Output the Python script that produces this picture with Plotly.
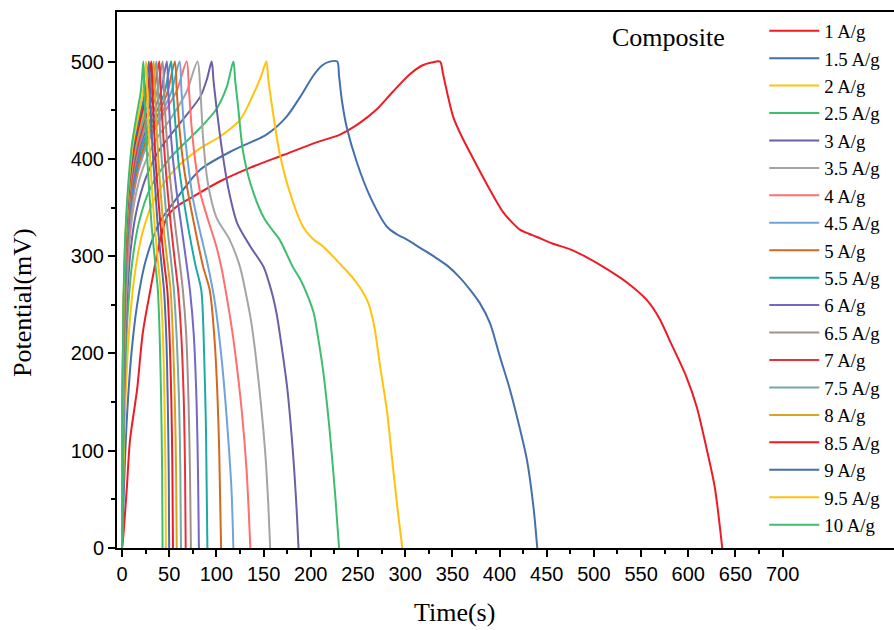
import plotly.graph_objects as go

labels = ["1 A/g", "1.5 A/g", "2 A/g", "2.5 A/g", "3 A/g", "3.5 A/g", "4 A/g", "4.5 A/g",
          "5 A/g", "5.5 A/g", "6 A/g", "6.5 A/g", "7 A/g", "7.5 A/g", "8 A/g", "8.5 A/g",
          "9 A/g", "9.5 A/g", "10 A/g"]

colors = ["#ED1C24", "#4470AD", "#FFC20E", "#3DBE6E", "#6B5FA5", "#A5A5A5", "#FF6F6F", "#6FA3DA",
          "#D2691E", "#1FA8A8", "#7567C8", "#A39189", "#E8313A", "#75A8A6", "#D9A521", "#ED1C24",
          "#4470AD", "#FFC20E", "#3DBE6E"]

# time (s) and potential (mV) for each current density: charge then discharge
t_1 = [0, 1, 5, 8.5, 16, 22, 30, 40, 48, 58, 75, 104, 136, 171, 206, 231, 252, 270, 287, 305, 318, 328, 337,
       340, 345, 351, 360, 369, 386, 404, 414, 422, 431, 439, 456, 475, 492, 510, 535, 556, 570, 580, 598,
       609, 619, 628, 636]
v_1 = [0, 8, 60, 111, 163, 221, 265, 315, 341, 351, 361, 377, 391, 404, 417, 425, 437, 451, 469, 487, 496, 499, 500,
       488, 466, 443, 423, 406, 375, 345, 334, 327, 323, 320, 313, 307, 299, 289, 273, 255, 235, 214, 176,
       145, 104, 63, 0]

t_1_5 = [0, 2, 5, 10, 16, 25, 40, 60, 83, 118, 153, 174, 189, 203, 212, 220, 228,
         230, 233, 238, 249, 263, 281, 292, 302, 315, 330, 345, 358, 370, 379, 390, 400, 411, 422, 429, 436, 440]
v_1_5 = [0, 60, 130, 200, 250, 295, 335, 362, 389, 409, 425, 443, 464, 486, 496, 500, 500,
         485, 460, 433, 396, 361, 330, 322, 317, 309, 300, 290, 278, 264, 252, 231, 198, 163, 121, 91, 42, 0]

t_2 = [0, 1.5, 4, 8, 14, 22, 35, 55, 83, 104, 125, 139, 147, 153,
       155, 159, 167, 178, 192, 202, 213, 234, 246, 254, 261, 265, 268, 273, 281, 287, 292, 297]
v_2 = [0, 80, 160, 230, 285, 325, 360, 388, 411, 423, 440, 466, 484, 500,
       482, 454, 406, 365, 330, 318, 310, 289, 276, 265, 252, 238, 224, 190, 139, 84, 40, 0]

t_2_5 = [0, 1, 3, 6, 11, 18, 30, 50, 83, 100, 111, 118,
         120, 123, 128, 136, 150, 160, 167, 181, 189, 196, 203, 208, 213, 220, 226, 230]
v_2_5 = [0, 80, 170, 240, 295, 335, 370, 400, 432, 451, 474, 500,
         480, 454, 409, 375, 340, 326, 317, 289, 276, 261, 242, 215, 183, 121, 53, 0]

t_3 = [0, 1, 2.5, 5, 9, 15, 25, 40, 60, 83, 90, 95,
       97, 100, 106, 113, 122, 136, 150, 156, 160, 164, 168, 175, 181, 185, 187]
v_3 = [0, 90, 180, 250, 305, 345, 380, 410, 435, 464, 482, 500,
       480, 454, 409, 368, 334, 310, 289, 272, 258, 240, 215, 165, 100, 40, 0]

t_3_5 = [0, 1, 2.5, 4.5, 8, 13, 22, 35, 52, 68, 80,
         83, 86, 91, 100, 114, 125, 132, 137, 142, 147, 152, 155, 157]
v_3_5 = [0, 100, 195, 260, 315, 355, 390, 418, 442, 468, 500,
         471, 420, 375, 340, 317, 289, 258, 232, 195, 150, 95, 45, 0]

t_4 = [0, 0.8, 2, 4, 7, 11, 18, 29, 45, 58, 68.5,
       71, 74, 78, 83, 90, 100, 106, 111, 116, 120, 127, 132, 136]
v_4 = [0, 100, 190, 260, 315, 355, 390, 420, 448, 470, 500,
       470, 430, 395, 365, 341, 310, 285, 258, 228, 200, 140, 80, 0]

t_4_5 = [0, 0.7, 1.8, 3.5, 6, 10, 16, 26, 40, 52, 61,
         63, 66, 70, 75, 83, 90, 98, 106, 112, 116, 118]
v_4_5 = [0, 100, 190, 260, 310, 350, 385, 415, 443, 468, 500,
         470, 430, 395, 360, 324, 295, 255, 190, 120, 60, 0]

t_5 = [0, 0.6, 1.6, 3.2, 5.5, 9, 15, 24, 37, 48, 56,
       58, 61, 65, 70, 77, 86, 93, 98, 101, 103, 105]
v_5 = [0, 100, 190, 260, 310, 350, 385, 415, 443, 468, 500,
       470, 430, 395, 365, 330, 289, 265, 215, 160, 100, 0]

t_5_5 = [0, 0.6, 1.5, 3, 5, 8.5, 14, 22, 34, 45, 52,
         54, 57, 60, 65, 71, 78, 84, 87, 89, 90.5]
v_5_5 = [0, 100, 190, 260, 310, 350, 385, 415, 443, 468, 500,
         470, 430, 395, 360, 325, 290, 265, 200, 120, 0]

t_6 = [0, 0.5, 1.4, 2.8, 4.8, 8, 13, 20, 31, 41, 47.5,
       49, 51, 54, 58, 63, 68, 72, 76, 79, 80.5, 81.5]
v_6 = [0, 100, 190, 260, 310, 350, 385, 415, 443, 468, 500,
       470, 435, 400, 365, 330, 295, 265, 220, 150, 80, 0]

t_6_5 = [0, 0.5, 1.3, 2.6, 4.5, 7.5, 12, 18.5, 28, 37, 43,
         44.5, 46.5, 49, 52.5, 56.5, 61, 64.5, 68, 70.5, 72, 73]
v_6_5 = [0, 100, 190, 260, 310, 350, 385, 415, 443, 468, 500,
         470, 435, 400, 365, 330, 295, 265, 220, 150, 80, 0]

t_7 = [0, 0.5, 1.2, 2.4, 4.2, 7, 11, 17, 26, 34, 39.5,
       41, 43, 45.5, 48.5, 52, 56, 59.5, 63, 65.5, 66.8, 67.5]
v_7 = [0, 100, 190, 260, 310, 350, 385, 415, 445, 470, 500,
       470, 435, 400, 365, 330, 295, 265, 215, 150, 80, 0]

t_7_5 = [0, 0.4, 1.1, 2.2, 4, 6.5, 10, 15.5, 24, 31.5, 36.5,
         38, 40, 42, 45, 48, 52, 55, 58, 60.5, 61.8, 62.5]
v_7_5 = [0, 100, 190, 260, 310, 350, 385, 415, 445, 470, 500,
         470, 435, 400, 365, 330, 295, 265, 215, 150, 80, 0]

t_8 = [0, 0.4, 1.0, 2.1, 3.8, 6.2, 9.5, 14.5, 22, 29, 33.5,
       35, 36.5, 38.5, 41, 44, 48, 51.5, 54, 56, 57.3, 58]
v_8 = [0, 100, 190, 260, 310, 350, 385, 415, 445, 470, 500,
       470, 435, 400, 365, 330, 295, 265, 215, 150, 80, 0]

t_8_5 = [0, 0.4, 1.0, 2.0, 3.6, 5.8, 9, 13.5, 20.5, 27, 31,
         32.3, 33.8, 35.5, 38, 41, 44.5, 48, 50.5, 52.3, 53.4, 54]
v_8_5 = [0, 100, 190, 260, 310, 350, 385, 415, 445, 470, 500,
         470, 435, 400, 365, 330, 295, 265, 215, 150, 80, 0]

t_9 = [0, 0.35, 0.9, 1.9, 3.4, 5.5, 8.5, 12.5, 19, 25, 28.5,
       29.7, 31, 33, 35.5, 38, 41.5, 44.5, 47, 48.5, 49.5, 50]
v_9 = [0, 100, 190, 260, 310, 350, 385, 415, 445, 470, 500,
       470, 435, 400, 365, 330, 295, 265, 215, 150, 80, 0]

t_9_5 = [0, 0.35, 0.9, 1.8, 3.2, 5.2, 8, 11.5, 17.5, 22.5, 25.5,
         26.7, 28, 29.8, 32, 34.8, 38, 41, 43.5, 45, 46, 46.5]
v_9_5 = [0, 100, 190, 260, 310, 350, 385, 415, 445, 470, 500,
         470, 435, 400, 365, 330, 295, 265, 215, 150, 80, 0]

t_10 = [0, 0.3, 0.8, 1.7, 3.0, 5.0, 7.5, 10.5, 15.5, 20, 22.6,
        23.7, 25, 26.8, 29, 31.5, 35, 38, 40, 41.5, 42.5, 43]
v_10 = [0, 100, 190, 260, 310, 350, 385, 415, 445, 470, 500,
        470, 435, 400, 365, 330, 295, 265, 215, 150, 80, 0]

times = [t_1, t_1_5, t_2, t_2_5, t_3, t_3_5, t_4, t_4_5, t_5, t_5_5, t_6, t_6_5,
         t_7, t_7_5, t_8, t_8_5, t_9, t_9_5, t_10]
volts = [v_1, v_1_5, v_2, v_2_5, v_3, v_3_5, v_4, v_4_5, v_5, v_5_5, v_6, v_6_5,
         v_7, v_7_5, v_8, v_8_5, v_9, v_9_5, v_10]

x_ticks = list(range(0, 701, 50))
y_ticks = [0, 100, 200, 300, 400, 500]

fig = go.Figure()
for name, col, tt, vv in zip(labels, colors, times, volts):
    fig.add_trace(go.Scatter(x=tt, y=vv, mode="lines", name=name,
                             line=dict(color=col, width=2, shape="spline", smoothing=0.8)))

serif = "Liberation Serif, Times New Roman, serif"
sans = "Liberation Sans, Arial, sans-serif"

fig.update_layout(
    width=894, height=630,
    margin=dict(l=117, r=0, t=12, b=82, autoexpand=False),
    paper_bgcolor="white", plot_bgcolor="white",
    showlegend=True,
    legend=dict(x=0.833, y=1.0, xanchor="left", yanchor="top",
                font=dict(family=serif, size=18.8, color="black"),
                bgcolor="rgba(0,0,0,0)", borderwidth=0, tracegroupgap=0,
                itemwidth=50),
    xaxis=dict(range=[-5.3, 818], tickvals=x_ticks, ticktext=[str(v) for v in x_ticks],
               showgrid=False, zeroline=False, showline=True, linecolor="black", linewidth=2,
               mirror=True, ticks="outside", ticklen=7, tickwidth=2, tickcolor="black",
               minor=dict(tickvals=list(range(25, 701, 50)), ticks="outside", ticklen=4,
                          tickwidth=2, tickcolor="black"),
               tickfont=dict(family=sans, size=20, color="black")),
    yaxis=dict(range=[0, 551], tickvals=y_ticks, ticktext=[str(v) for v in y_ticks],
               showgrid=False, zeroline=False, showline=True, linecolor="black", linewidth=2,
               ticks="outside", ticklen=7, tickwidth=2, tickcolor="black",
               minor=dict(tickvals=[50, 150, 250, 350, 450], ticks="outside", ticklen=4,
                          tickwidth=2, tickcolor="black"),
               tickfont=dict(family=sans, size=20, color="black")),
    annotations=[
        dict(text="Composite", x=(668 - 117) / 777, y=(548 - 38) / 536, xref="paper", yref="paper",
             xanchor="center", yanchor="middle", showarrow=False,
             font=dict(family=serif, size=26, color="black")),
        dict(text="Time(s)", x=(454 - 117) / 777, y=(548 - 612) / 536, xref="paper", yref="paper",
             xanchor="center", yanchor="middle", showarrow=False,
             font=dict(family=serif, size=26, color="black")),
        dict(text="Potential(mV)", x=(22 - 117) / 777, y=(548 - 303) / 536, xref="paper", yref="paper",
             xanchor="center", yanchor="middle", showarrow=False, textangle=-90,
             font=dict(family=serif, size=26, color="black")),
    ],
)

fig.write_html("out.html")
